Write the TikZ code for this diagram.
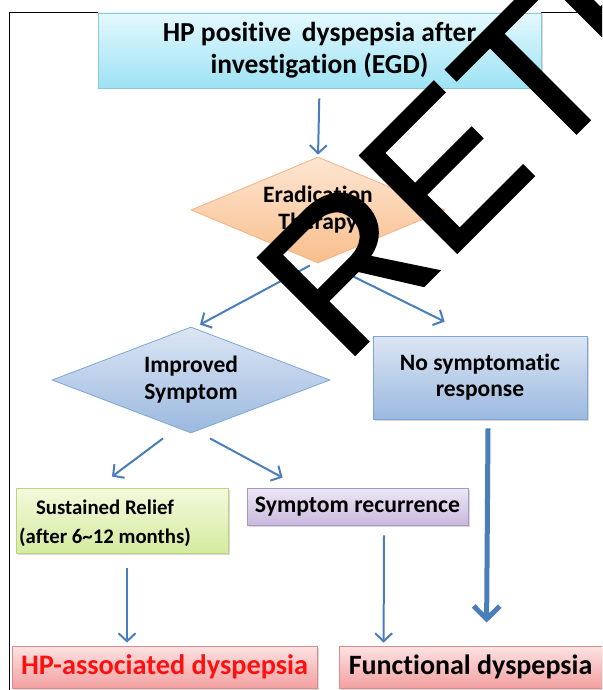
\documentclass[tikz,border=0pt]{standalone}
\usepackage{fontspec}
\setmainfont{Carlito}[Ligatures=NoCommon]
\newfontfamily\stampfont{Liberation Sans}[FakeBold=1]
\usetikzlibrary{arrows.meta, shapes.geometric, shadows}

\definecolor{flowblue}{HTML}{4A7EBB}
\definecolor{cyanlo}{HTML}{E4F8FD}
\definecolor{cyanhi}{HTML}{9DE3F4}
\definecolor{cyanrim}{HTML}{8CC8D8}
\definecolor{orangelo}{HTML}{FDE6D2}
\definecolor{orangehi}{HTML}{F9BE8C}
\definecolor{orangerim}{HTML}{F4B183}
\definecolor{bluelo}{HTML}{DCE6F4}
\definecolor{bluehi}{HTML}{9BB9DF}
\definecolor{bluerim}{HTML}{7EA6D3}
\definecolor{greenlo}{HTML}{F3F9DC}
\definecolor{greenhi}{HTML}{D5EB9F}
\definecolor{greenrim}{HTML}{BBD47F}
\definecolor{purplelo}{HTML}{EDE7F5}
\definecolor{purplehi}{HTML}{C9B9DD}
\definecolor{purplerim}{HTML}{A896C6}
\definecolor{pinklo}{HTML}{FDE3E3}
\definecolor{pinkhi}{HTML}{F3A0A0}
\definecolor{pinkrim}{HTML}{D58C8C}
\definecolor{alertred}{HTML}{FF1010}

\tikzset{
    card/.style={rectangle, draw, line width=0.8pt, inner sep=0pt, align=center,
        font=\bfseries, drop shadow={shadow xshift=1.5pt, shadow yshift=-1.5pt, opacity=0.3}},
    choice/.style={diamond, draw, line width=0.8pt, inner sep=0pt, aspect=2.4, align=center,
        font=\bfseries\fontsize{23.5}{27}\selectfont},
    flow/.style={draw=flowblue, line width=2pt, -{Straight Barb[length=8pt, width=17pt]}},
    bigflow/.style={draw=flowblue, line width=5pt, -{Straight Barb[length=13pt, width=26pt]}},
    stamp/.style={rotate=45, anchor=base west, inner sep=0pt, text=black,
        font=\stampfont\fontsize{200}{200}\selectfont}
}

\begin{document}
\begin{tikzpicture}[x=1pt, y=-1pt]
    \useasboundingbox (0,0) rectangle (602,690);
    \clip (0,0) rectangle (602,690);

    % frame
    \draw[line width=0.8pt] (9,12) rectangle (640,720);

    % boxes and decisions
    \node[card, draw=cyanrim, top color=cyanlo, bottom color=cyanhi,
        minimum width=443pt, minimum height=75pt, font=\bfseries\fontsize{27.5}{32}\selectfont]
        (start) at (319.5,50.5) {HP positive\, dyspepsia after\\investigation (EGD)};

    \node[choice, draw=orangerim, top color=orangelo, bottom color=orangehi,
        minimum width=254pt, minimum height=106pt] (erad) at (318,210) {Eradication\\Therapy};

    \node[choice, draw=bluerim, top color=bluelo, bottom color=bluehi,
        minimum width=278pt, minimum height=106pt] (better) at (191,380) {Improved\\Symptom};

    \node[card, draw=bluerim, top color=bluelo, bottom color=bluehi,
        minimum width=214pt, minimum height=83pt, font=\bfseries\fontsize{23.5}{26}\selectfont]
        (nosym) at (480,377.5) {No symptomatic\\response};

    \node[card, draw=greenrim, top color=greenlo, bottom color=greenhi,
        minimum width=212pt, minimum height=65pt] (relief) at (122,520.5) {};
    \node[align=center, inner sep=0pt, font=\bfseries\fontsize{20.8}{29}\selectfont]
        (relieftext) at ([xshift=-17pt, yshift=-3pt]relief.center)
        {Sustained Relief\\(after 6\textasciitilde12 months)};

    \node[card, draw=purplerim, top color=purplelo, bottom color=purplehi,
        minimum width=221pt, minimum height=37pt, font=\bfseries\fontsize{23.7}{26}\selectfont]
        (recur) at (357.5,506.5) {Symptom recurrence};

    \node[card, draw=pinkrim, top color=pinklo, bottom color=pinkhi, text=alertred,
        minimum width=305pt, minimum height=42pt, font=\bfseries\fontsize{28.3}{30}\selectfont]
        (hpd) at (164.5,667) {HP-associated dyspepsia};

    \node[card, draw=pinkrim, top color=pinklo, bottom color=pinkhi,
        minimum width=263pt, minimum height=42pt, font=\bfseries\fontsize{28}{30}\selectfont]
        (fd) at (470.5,667) {Functional dyspepsia};

    % arrows
    \draw[flow, shorten <=10pt, shorten >=2pt] (start.south) -- (erad.north);
    \draw[flow] ([xshift=-8pt, yshift=-2pt]erad.south) -- ([xshift=9pt, yshift=2pt]better.north);
    \draw[flow] ([xshift=29pt, yshift=-10pt]erad.south) -- ([xshift=72pt, yshift=14pt]nosym.north west);
    \draw[flow] ([xshift=-28pt, yshift=-5pt]better.south) -- ([xshift=-10pt, yshift=11pt]relief.north);
    \draw[flow] ([xshift=19pt, yshift=-5pt]better.south) -- ([xshift=36pt, yshift=10pt]recur.north west);
    \draw[flow] ([xshift=5pt, yshift=-15pt]relief.south) -- ([xshift=-37.5pt, yshift=3pt]hpd.north);
    \draw[flow] ([xshift=26.5pt, yshift=-10pt]recur.south) -- ([xshift=45pt, yshift=3pt]fd.north west);
    \draw[bigflow] ([xshift=8pt, yshift=-9pt]nosym.south) -- ([xshift=148pt, yshift=23pt]fd.north west);

    % stamp across the figure
    \node[stamp] (mark) at (343.4,366.6) {RETR};
\end{tikzpicture}
\end{document}
